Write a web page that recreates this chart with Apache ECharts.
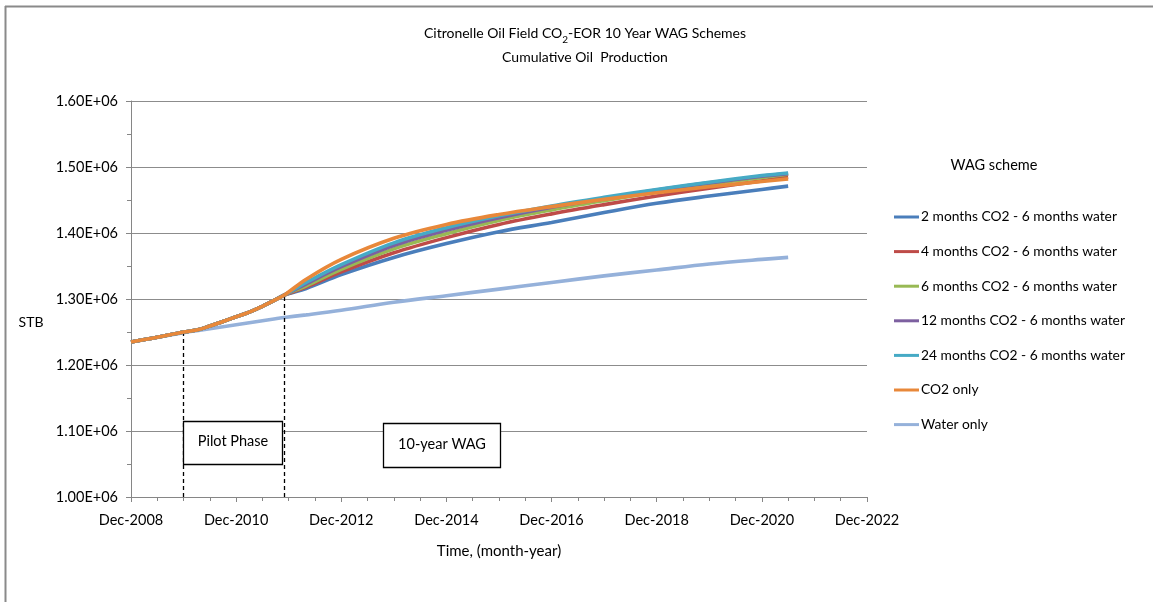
<!DOCTYPE html>
<html><head><meta charset="utf-8">
<script src="https://cdn.jsdelivr.net/npm/echarts@6/dist/echarts.min.js"></script>
<style>html,body{margin:0;padding:0;background:#fff}#c{width:1153px;height:602px}</style>
</head><body><div id="c"></div>
<script>
// months since Dec-2008
const months = [0, 6, 12, 15, 18, 21, 24, 27, 30, 33, 35, 40, 48, 60, 72, 84, 96, 108, 120, 132, 144, 150];
const xTickLabels = ['Dec-2008','Dec-2010','Dec-2012','Dec-2014','Dec-2016','Dec-2018','Dec-2020','Dec-2022'];
const yTickLabels = ['1.00E+06','1.10E+06','1.20E+06','1.30E+06','1.40E+06','1.50E+06','1.60E+06'];
const seriesNames = ['2 months CO2 - 6 months water','4 months CO2 - 6 months water','6 months CO2 - 6 months water','12 months CO2 - 6 months water','24 months CO2 - 6 months water','CO2 only','Water only'];
const colors = ['#4A7EBB','#BE4B48','#98B954','#7D60A0','#46AAC5','#E8883A','#95B1DA'];
// shared path through the pilot phase (months 0..35), values in STB
const pilot = [1235000, 1242000, 1250000, 1253000, 1259000, 1266000, 1273000, 1280000, 1289000, 1299000, 1306000];
const wag2  = [1316000, 1337000, 1363000, 1384000, 1402000, 1416000, 1431000, 1445000, 1456000, 1466000, 1471000];
const wag4  = [1318000, 1341000, 1370000, 1393000, 1413000, 1429000, 1443000, 1456000, 1468000, 1479000, 1485000];
const wag6  = [1320000, 1345000, 1376000, 1399000, 1419000, 1435000, 1449000, 1462000, 1474000, 1484000, 1489000];
const wag12 = [1323000, 1349000, 1381000, 1404000, 1423000, 1439000, 1452000, 1465000, 1476000, 1486000, 1490000];
const wag24 = [1325000, 1352000, 1385000, 1408000, 1426000, 1441000, 1454000, 1466000, 1477000, 1487000, 1491000];
const co2only = [1330000, 1360000, 1392000, 1413000, 1428000, 1440000, 1451000, 1461000, 1470000, 1478000, 1482000];
const waterOnly = [1235000, 1242000, 1249000, 1252000, 1255000, 1258000, 1261000, 1264000, 1267000, 1270000, 1272000, 1276000, 1283000, 1295000, 1305000, 1315000, 1325000, 1335000, 1344000, 1353000, 1360000, 1363000];
const pilotMonths = [12, 35];
const pilotLevels = [1250000, 1305000];
const boxTexts = ['Pilot Phase', '10-year WAG'];

const FONT = "Lato,'Liberation Sans',Arial,sans-serif";
function pair(vals){ return months.map((m,i)=>[m, vals[i]]); }
const wagSets = [wag2, wag4, wag6, wag12, wag24, co2only];
const series = wagSets.map((w,k)=>({
  name: seriesNames[k], type:'line', smooth:0.35, symbol:'none',
  lineStyle:{width:3.6, color:colors[k]}, itemStyle:{color:colors[k]},
  data: pair(pilot.concat(w)), z: 3 + k
}));
series.unshift({
  name: seriesNames[6], type:'line', smooth:0.35, symbol:'none',
  lineStyle:{width:3.6, color:colors[6]}, itemStyle:{color:colors[6]},
  data: pair(waterOnly), z: 2,
  markLine:{symbol:'none', silent:true, label:{show:false},
    lineStyle:{type:[4,3], color:'#000', width:1.3},
    data: pilotMonths.map((m,i)=>[{coord:[m,1000000]},{coord:[m,pilotLevels[i]]}])}
});

const chart = echarts.init(document.getElementById('c'));
chart.setOption({
  backgroundColor:'#fff',
  animation:false,
  textStyle:{fontFamily:FONT},
  title:{
    text:'Citronelle Oil Field CO{sub|2}-EOR 10 Year WAG Schemes\nCumulative Oil  Production',
    left:580, top:16, textAlign:'center',
    textStyle:{fontFamily:FONT, fontSize:14, fontWeight:'normal', color:'#000', lineHeight:24,
      rich:{sub:{fontSize:10, fontFamily:FONT, verticalAlign:'bottom', padding:[6,0,0,0], color:'#000'}}}
  },
  grid:{left:131, right:286, top:101, bottom:105, containLabel:false},
  legend:{
    orient:'vertical', left:889, top:205, itemGap:20.6, itemWidth:25, itemHeight:3, icon:'rect',
    data: seriesNames,
    textStyle:{fontFamily:FONT, fontSize:13.8, color:'#000', padding:[0,0,0,-3]}
  },
  xAxis:{
    type:'value', min:0, max:168, interval:24,
    name:'Time, (month-year)', nameLocation:'middle', nameGap:47,
    nameTextStyle:{fontFamily:FONT, fontSize:15, color:'#000'},
    axisLine:{lineStyle:{color:'#868686'}},
    axisTick:{show:true, length:5, lineStyle:{color:'#868686'}},
    minorTick:{show:true, splitNumber:4, length:4, lineStyle:{color:'#868686'}},
    splitLine:{show:false},
    axisLabel:{margin:16, fontFamily:FONT, fontSize:14.5, color:'#000',
      formatter:(v)=>xTickLabels[Math.round(v/24)]}
  },
  yAxis:{
    type:'value', min:1000000, max:1600000, interval:100000,
    axisLine:{show:true, lineStyle:{color:'#868686'}},
    axisTick:{show:true, length:5, lineStyle:{color:'#868686'}},
    minorTick:{show:true, splitNumber:2, length:4, lineStyle:{color:'#868686'}},
    splitLine:{show:true, lineStyle:{color:'#8c8c8c', width:1}},
    axisLabel:{margin:13, fontFamily:FONT, fontSize:14.5, color:'#000',
      formatter:(v)=>yTickLabels[Math.round((v-1000000)/100000)]}
  },
  graphic:[
    {type:'line', shape:{x1:5.5,y1:6,x2:5.5,y2:602}, style:{stroke:'#8a8a8a', lineWidth:2}},
    {type:'line', shape:{x1:5,y1:6.5,x2:1153,y2:6.5}, style:{stroke:'#8a8a8a', lineWidth:2}},
    {type:'text', x:31, y:322, style:{text:'STB', fontFamily:FONT, fontSize:14, fill:'#000', align:'center', verticalAlign:'middle'}},
    {type:'rect', shape:{x:183.5,y:421.5,width:99,height:43}, style:{fill:'#fff', stroke:'#000', lineWidth:1.3}, z:100},
    {type:'text', x:233, y:441, style:{text:boxTexts[0], fontFamily:FONT, fontSize:14.5, fill:'#000', align:'center', verticalAlign:'middle'}, z:101},
    {type:'rect', shape:{x:383.5,y:423.5,width:117,height:44}, style:{fill:'#fff', stroke:'#000', lineWidth:1.3}, z:100},
    {type:'text', x:442, y:444, style:{text:boxTexts[1], fontFamily:FONT, fontSize:14.5, fill:'#000', align:'center', verticalAlign:'middle'}, z:101},
    {type:'text', x:994, y:165, style:{text:'WAG scheme', fontFamily:FONT, fontSize:14.5, fill:'#000', align:'center', verticalAlign:'middle'}}
  ],
  series: series
});
</script></body></html>
